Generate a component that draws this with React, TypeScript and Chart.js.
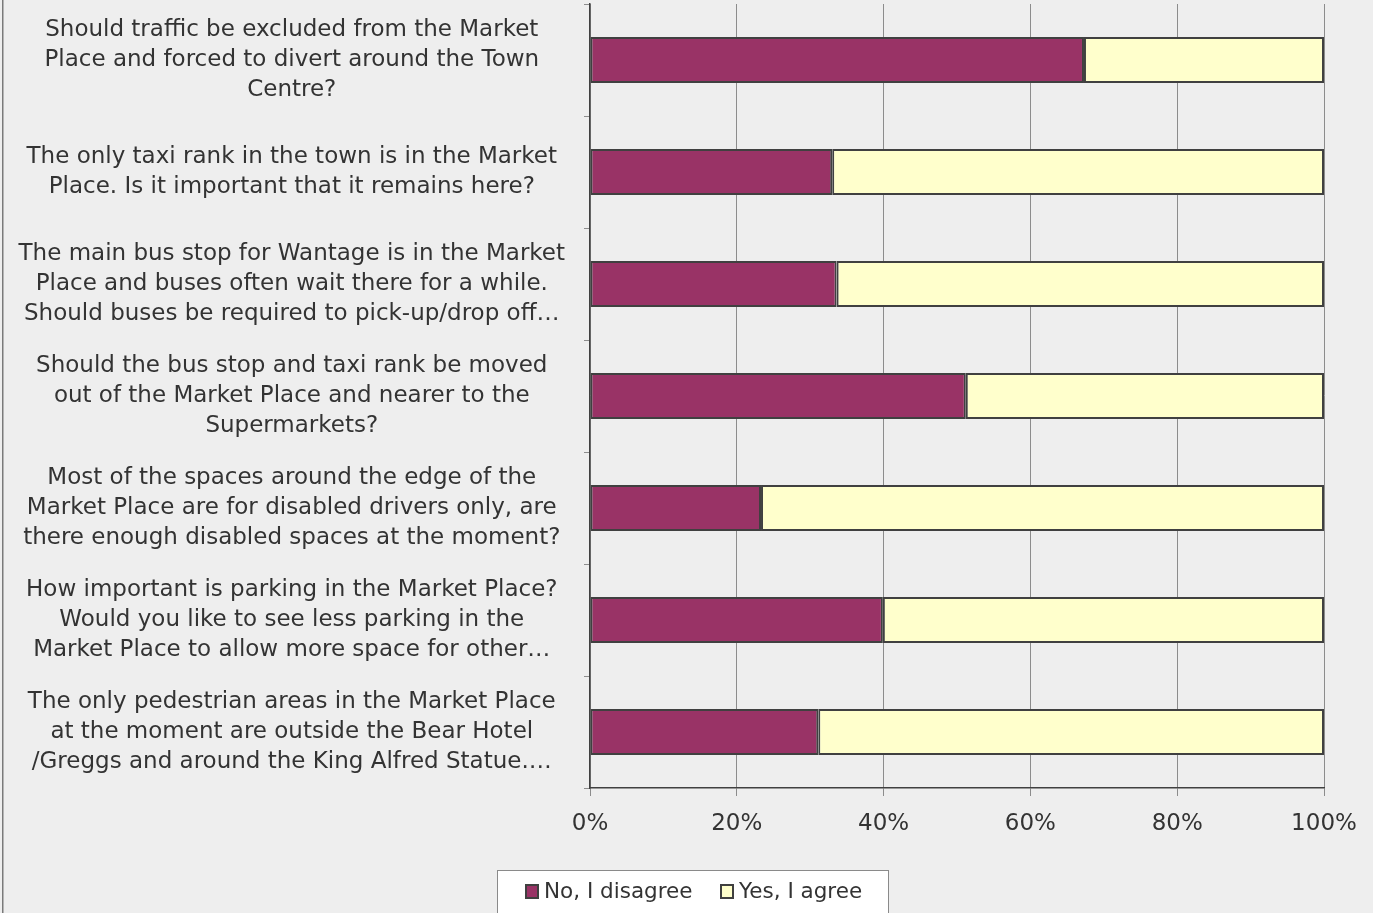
import React, { useEffect, useRef } from 'react';
import { Chart, registerables } from 'chart.js';

Chart.register(...registerables);

const questions: string[][] = [
  ['Should traffic be excluded from the Market', 'Place and forced to divert around the Town', 'Centre?'],
  ['The only taxi rank in the town is in the Market', 'Place. Is it important that it remains here?'],
  ['The main bus stop for Wantage is in the Market', 'Place and buses often wait there for a while.', 'Should buses be required to pick-up/drop off…'],
  ['Should the bus stop and taxi rank be moved', 'out of the Market Place and nearer to the', 'Supermarkets?'],
  ['Most of the spaces around the edge of the', 'Market Place are for disabled drivers only, are', 'there enough disabled spaces at the moment?'],
  ['How important is parking in the Market Place?', 'Would you like to see less parking in the', 'Market Place to allow more space for other…'],
  ['The only pedestrian areas in the Market Place', 'at the moment are outside the Bear Hotel', '/Greggs and around the King Alfred Statue.…'],
];

const disagree = [67.3, 33.0, 33.6, 51.2, 23.3, 39.9, 31.1];
const agree = [32.7, 67.0, 66.4, 48.8, 76.7, 60.1, 68.9];
const seriesNames = ['No, I disagree', 'Yes, I agree'];
const seriesColors = ['#993366', '#ffffcc'];
const xTickValues = [0, 20, 40, 60, 80, 100];

const FONT = '"DejaVu Sans", Verdana, sans-serif';
const TEXT = '#333333';
const EDGE = '#404040';
const GRID = '#8c8c8c';
const BG = '#eeeeee';

const bgPlugin = {
  id: 'bgPlugin',
  beforeDraw(chart: any) {
    const { ctx, width, height } = chart;
    ctx.save();
    ctx.fillStyle = BG;
    ctx.fillRect(0, 0, width, height);
    ctx.fillStyle = '#7a7a7a';
    ctx.fillRect(2, 0, 1.5, height);
    ctx.restore();
  },
};

const legendPlugin = {
  id: 'boxLegend',
  afterDraw(chart: any) {
    const { ctx } = chart;
    const ds = chart.data.datasets;
    ctx.save();
    ctx.fillStyle = '#ffffff';
    ctx.fillRect(497, 870, 391, 60);
    ctx.strokeStyle = '#8a8a8a';
    ctx.lineWidth = 1;
    ctx.strokeRect(497.5, 870.5, 391, 60);
    ctx.font = `21.5px ${FONT}`;
    ctx.textBaseline = 'middle';
    ctx.textAlign = 'left';
    const starts = [526, 721];
    ds.forEach((d: any, i: number) => {
      const x = starts[i];
      ctx.fillStyle = d.backgroundColor;
      ctx.fillRect(x, 885, 12, 13);
      ctx.strokeStyle = EDGE;
      ctx.lineWidth = 2;
      ctx.strokeRect(x, 885, 12, 13);
      ctx.fillStyle = TEXT;
      ctx.fillText(d.label, x + 18, 892);
    });
    ctx.restore();
  },
};

export default function App() {
  const ref = useRef<HTMLCanvasElement | null>(null);

  useEffect(() => {
    document.body.style.margin = '0';
    if (!ref.current) return;
    const chart = new Chart(ref.current, {
      type: 'bar',
      data: {
        labels: questions,
        datasets: [
          {
            label: seriesNames[0],
            data: disagree,
            backgroundColor: seriesColors[0],
            borderColor: EDGE,
            borderWidth: 2,
            borderSkipped: false,
          },
          {
            label: seriesNames[1],
            data: agree,
            backgroundColor: seriesColors[1],
            borderColor: EDGE,
            borderWidth: 2,
            borderSkipped: false,
          },
        ],
      },
      options: {
        indexAxis: 'y',
        responsive: false,
        animation: false,
        devicePixelRatio: 1,
        layout: { padding: { top: 4, left: 0, right: 49, bottom: 0 } },
        datasets: {
          bar: { categoryPercentage: 1, barPercentage: 0.41 },
        },
        plugins: {
          legend: { display: false },
          tooltip: { enabled: false },
          title: { display: false },
        },
        scales: {
          x: {
            stacked: true,
            min: 0,
            max: 100,
            afterBuildTicks: (axis: any) => {
              axis.ticks = xTickValues.map((v) => ({ value: v }));
            },
            ticks: {
              callback: (v: any) => `${v}%`,
              color: TEXT,
              font: { family: FONT, size: 23 },
              padding: 14,
              maxRotation: 0,
            },
            grid: { color: GRID, lineWidth: 1, tickLength: 8 },
            border: { color: EDGE, width: 1.5 },
            afterFit: (axis: any) => {
              axis.height = 125;
            },
          },
          y: {
            stacked: true,
            ticks: {
              color: TEXT,
              font: { family: FONT, size: 23, lineHeight: 1.3 },
              crossAlign: 'center',
              padding: 19,
            },
            grid: { drawOnChartArea: false, drawTicks: true, tickLength: 6, color: GRID, offset: true },
            border: { color: EDGE, width: 1.5 },
            afterFit: (axis: any) => {
              axis.width = 590;
              axis.paddingTop = 0;
              axis.paddingBottom = 0;
            },
          },
        },
      },
      plugins: [bgPlugin, legendPlugin],
    } as any);
    return () => chart.destroy();
  }, []);

  return (
    <div style={{ width: 1373, height: 913, overflow: 'hidden' }}>
      <canvas ref={ref} width={1373} height={913} style={{ display: 'block' }} />
    </div>
  );
}
